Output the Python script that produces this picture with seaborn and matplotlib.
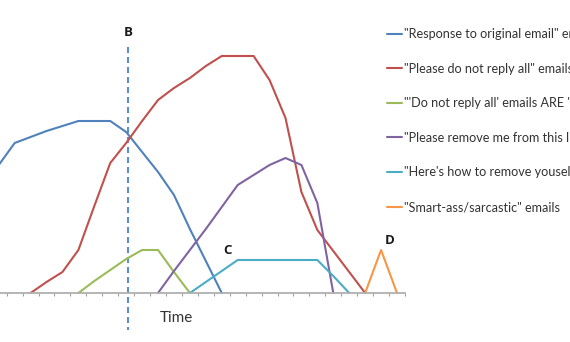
import numpy as np
import pandas as pd
import matplotlib
matplotlib.use("Agg")
import matplotlib.pyplot as plt
import seaborn as sns

sns.set_theme(style="white")
plt.rcParams['font.family'] = ['Lato', 'DejaVu Sans']

# ---- data (arbitrary volume units, time in category steps) ----
series_names = [
    '"Response to original email" emails',
    '"Please do not reply all" emails',
    '"\'Do not reply all\' emails ARE \'Reply all\'" emails',
    '"Please remove me from this list" emails',
    '"Here\'s how to remove youself from this list" emails',
    '"Smart-ass/sarcastic" emails',
]
response_t = list(range(-1, 14))
response_v = [128, 150, 156, 162, 167, 172, 172, 172, 161, 141, 121, 98, 64, 32, 0]
noreply_t = list(range(1, 23))
noreply_v = [0, 11, 21, 43, 87, 130, 150, 172, 193, 205, 215, 227, 237, 237, 237,
             213, 175, 101, 63, 42, 21, 0]
replyall_t = list(range(4, 12))
replyall_v = [0, 12, 23, 34, 43, 43, 21, 0]
remove_t = list(range(9, 21))
remove_v = [0, 22, 43, 64, 86, 108, 118, 128, 135, 128, 90, 0]
howto_t = list(range(11, 22))
howto_v = [0, 11, 22, 33, 33, 33, 33, 33, 33, 17, 0]
smart_t = [22, 23, 24]
smart_v = [0, 43, 0]

colors = ["#4F81BD", "#C0504D", "#9BBB59", "#8064A2", "#4BACC6", "#F79646"]

frames = []
for name, t, v in zip(series_names,
                      [response_t, noreply_t, replyall_t, remove_t, howto_t, smart_t],
                      [response_v, noreply_v, replyall_v, remove_v, howto_v, smart_v]):
    frames.append(pd.DataFrame({"time": t, "volume": v, "series": name}))
df = pd.concat(frames, ignore_index=True)

# annotation positions
B_X = 7.1
n_cats = 25

fig = plt.figure(figsize=(5.7, 3.42), dpi=100)
ax = fig.add_axes([0, 0, 1, 1])

sns.lineplot(data=df, x="time", y="volume", hue="series", hue_order=series_names,
             palette=colors, linewidth=1.5, ax=ax, sort=False, estimator=None)

ax.set_xlim(-0.921, 34.86)
ax.set_ylim(-49, 293)

for s in ["top", "right", "left"]:
    ax.spines[s].set_visible(False)
ax.spines["bottom"].set_position(("data", 0))
ax.spines["bottom"].set_color("#B0B0B0")
ax.spines["bottom"].set_linewidth(1.3)
ax.spines["bottom"].set_bounds(-0.921, n_cats - 0.5)
ax.set_xticks(np.arange(-0.5, n_cats, 1.0))
ax.tick_params(axis="x", direction="out", length=2.5, width=0.8, color="#A0A0A0",
               labelbottom=False, bottom=True)
ax.set_yticks([])
ax.set_xlabel("")
ax.set_ylabel("")

ax.plot([B_X, B_X], [246, -37], color="#5B8FD0", linewidth=1.5,
        linestyle=(0, (2.9, 1.9)), zorder=1)

bold_font = dict(family=["Open Sans", "DejaVu Sans"], fontweight="bold", fontsize=9.5,
                 color="#1A1A1A")
ax.text(B_X, 260, "B", ha="center", va="center", **bold_font)
ax.text(13.33, 43, "C", ha="center", va="center", **bold_font)
ax.text(23.56, 52, "D", ha="center", va="center", **bold_font)
ax.text(10.13, -25, "Time", fontsize=11, ha="center", va="center", color="#333333")

leg = ax.legend(loc="upper left", bbox_to_anchor=(387 / 570, 1 - 28 / 342),
                frameon=False, fontsize=9.1, handlelength=1.2, handletextpad=0.15,
                labelspacing=1.79, borderpad=0, borderaxespad=0)
for txt in leg.get_texts():
    txt.set_color("#333333")
for line in leg.get_lines():
    line.set_linewidth(1.5)

fig.savefig("out.png", dpi=100)
